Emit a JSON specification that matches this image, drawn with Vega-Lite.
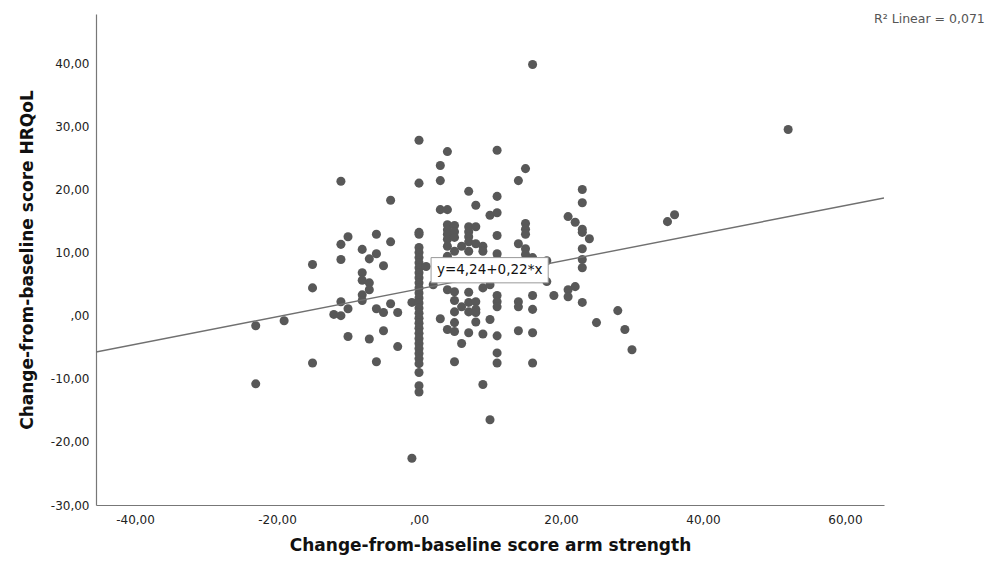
{
  "$schema": "https://vega.github.io/schema/vega-lite/v6.json",
  "width": 788,
  "height": 491,
  "autosize": {"type": "none"},
  "padding": {"left": 96, "top": 14, "right": 115, "bottom": 57},
  "background": "white",
  "config": {"view": {"stroke": null}, "font": "DejaVu Sans"},
  "datasets": {
    "pts": [
      {"x": -23, "y": -1.6}, {"x": -23, "y": -10.8}, {"x": -19, "y": -0.8},
      {"x": -15, "y": 8.1}, {"x": -15, "y": 4.4}, {"x": -15, "y": -7.5},
      {"x": -12, "y": 0.2},
      {"x": -11, "y": 21.3}, {"x": -11, "y": 11.3}, {"x": -11, "y": 8.9}, {"x": -11, "y": 2.2}, {"x": -11, "y": 0},
      {"x": -10, "y": 12.5}, {"x": -10, "y": 1.1}, {"x": -10, "y": -3.3},
      {"x": -8, "y": 10.5}, {"x": -8, "y": 6.8}, {"x": -8, "y": 5.6}, {"x": -8, "y": 3.3}, {"x": -8, "y": 2.4},
      {"x": -7, "y": 9.0}, {"x": -7, "y": 5.2}, {"x": -7, "y": 4.1}, {"x": -7, "y": -3.7},
      {"x": -6, "y": 12.9}, {"x": -6, "y": 9.8}, {"x": -6, "y": 1.1}, {"x": -6, "y": -7.3},
      {"x": -5, "y": 7.9}, {"x": -5, "y": 0.5}, {"x": -5, "y": -2.4},
      {"x": -4, "y": 18.3}, {"x": -4, "y": 11.7}, {"x": -4, "y": 1.9},
      {"x": -3, "y": 0.5}, {"x": -3, "y": -4.9},
      {"x": -1, "y": 2.1}, {"x": -1, "y": -22.6},
      {"x": 0, "y": 27.8}, {"x": 0, "y": 21.0}, {"x": 0, "y": 13.2}, {"x": 0, "y": 12.9},
      {"x": 0, "y": 10.8}, {"x": 0, "y": 10.0}, {"x": 0, "y": 9.2}, {"x": 0, "y": 8.4}, {"x": 0, "y": 7.6},
      {"x": 0, "y": 6.8}, {"x": 0, "y": 6.0}, {"x": 0, "y": 5.2}, {"x": 0, "y": 4.4}, {"x": 0, "y": 3.6},
      {"x": 0, "y": 2.8}, {"x": 0, "y": 2.0}, {"x": 0, "y": 1.2}, {"x": 0, "y": 0.4}, {"x": 0, "y": -0.4},
      {"x": 0, "y": -1.2}, {"x": 0, "y": -2.0}, {"x": 0, "y": -2.8}, {"x": 0, "y": -3.6}, {"x": 0, "y": -4.4},
      {"x": 0, "y": -5.2}, {"x": 0, "y": -6.0}, {"x": 0, "y": -6.8}, {"x": 0, "y": -7.6}, {"x": 0, "y": -9.0},
      {"x": 0, "y": -11.1}, {"x": 0, "y": -12.1},
      {"x": 1, "y": 7.8},
      {"x": 2, "y": 4.9},
      {"x": 3, "y": 23.8}, {"x": 3, "y": 21.4}, {"x": 3, "y": 16.8}, {"x": 3, "y": -0.5},
      {"x": 4, "y": 26.0}, {"x": 4, "y": 16.8}, {"x": 4, "y": 14.4}, {"x": 4, "y": 13.6}, {"x": 4, "y": 12.9},
      {"x": 4, "y": 12.1}, {"x": 4, "y": 11.0}, {"x": 4, "y": 9.4}, {"x": 4, "y": 4.1}, {"x": 4, "y": -2.2},
      {"x": 5, "y": 14.3}, {"x": 5, "y": 13.3}, {"x": 5, "y": 12.4}, {"x": 5, "y": 10.2}, {"x": 5, "y": 3.8},
      {"x": 5, "y": 2.4}, {"x": 5, "y": 0.6}, {"x": 5, "y": -1.1}, {"x": 5, "y": -2.5}, {"x": 5, "y": -7.3},
      {"x": 6, "y": 11.0}, {"x": 6, "y": 1.4}, {"x": 6, "y": -4.4},
      {"x": 7, "y": 19.7}, {"x": 7, "y": 14.1}, {"x": 7, "y": 13.3}, {"x": 7, "y": 12.5}, {"x": 7, "y": 11.7},
      {"x": 7, "y": 10.2}, {"x": 7, "y": 3.7}, {"x": 7, "y": 2.1}, {"x": 7, "y": 0.6}, {"x": 7, "y": -2.7},
      {"x": 8, "y": 17.5}, {"x": 8, "y": 14.1}, {"x": 8, "y": 11.4}, {"x": 8, "y": 2.2}, {"x": 8, "y": 1.0},
      {"x": 8, "y": 0.5}, {"x": 8, "y": -1.0},
      {"x": 9, "y": 11.0}, {"x": 9, "y": 10.2}, {"x": 9, "y": 4.4}, {"x": 9, "y": -2.9}, {"x": 9, "y": -10.9},
      {"x": 10, "y": 15.9}, {"x": 10, "y": 4.9}, {"x": 10, "y": -0.6}, {"x": 10, "y": -16.5},
      {"x": 11, "y": 26.2}, {"x": 11, "y": 18.9}, {"x": 11, "y": 16.3}, {"x": 11, "y": 12.7}, {"x": 11, "y": 9.8},
      {"x": 11, "y": 8.9}, {"x": 11, "y": 3.2}, {"x": 11, "y": 2.2}, {"x": 11, "y": 1.4}, {"x": 11, "y": -3.2},
      {"x": 11, "y": -5.9}, {"x": 11, "y": -7.5},
      {"x": 14, "y": 21.4}, {"x": 14, "y": 11.4}, {"x": 14, "y": 2.2}, {"x": 14, "y": 1.4}, {"x": 14, "y": -2.4},
      {"x": 15, "y": 23.3}, {"x": 15, "y": 14.6}, {"x": 15, "y": 13.7}, {"x": 15, "y": 12.9}, {"x": 15, "y": 10.6},
      {"x": 15, "y": 9.7},
      {"x": 16, "y": 39.8}, {"x": 16, "y": 9.2}, {"x": 16, "y": 3.2}, {"x": 16, "y": 1.0}, {"x": 16, "y": -2.7},
      {"x": 16, "y": -7.5},
      {"x": 18, "y": 8.7}, {"x": 18, "y": 5.4},
      {"x": 19, "y": 3.2},
      {"x": 21, "y": 15.7}, {"x": 21, "y": 4.1}, {"x": 21, "y": 3.0},
      {"x": 22, "y": 14.8}, {"x": 22, "y": 4.6},
      {"x": 23, "y": 20.0}, {"x": 23, "y": 17.9}, {"x": 23, "y": 13.7}, {"x": 23, "y": 13.2}, {"x": 23, "y": 10.6},
      {"x": 23, "y": 8.9}, {"x": 23, "y": 7.6}, {"x": 23, "y": 2.1},
      {"x": 24, "y": 12.2},
      {"x": 25, "y": -1.1},
      {"x": 28, "y": 0.8},
      {"x": 29, "y": -2.2},
      {"x": 30, "y": -5.4},
      {"x": 35, "y": 14.9},
      {"x": 36, "y": 16.0},
      {"x": 52, "y": 29.5}
    ],
    "fit": [
      {"x": -45.5, "y": -5.77},
      {"x": 65.5, "y": 18.65}
    ],
    "box": [
      {"x1": 1.7, "x2": 18.2, "y1": 5.2, "y2": 9.2, "xc": 9.95, "yc": 7.2, "label": "y=4,24+0,22*x"}
    ],
    "r2": [
      {"x": 79.7, "y": 47.0, "label": "R² Linear = 0,071"}
    ]
  },
  "layer": [
    {
      "data": {"name": "pts"},
      "mark": {"type": "circle", "size": 82, "color": "#585858", "opacity": 1},
      "encoding": {
        "x": {
          "field": "x", "type": "quantitative",
          "scale": {"domain": [-45.5, 65.5], "nice": false, "zero": false},
          "axis": {
            "title": "Change-from-baseline score arm strength",
            "values": [-40, -20, 0, 20, 40, 60],
            "labelExpr": "datum.value == 0 ? ',00' : replace(replace(format(datum.value, '.2f'), '.', ','), '−', '-')",
            "ticks": false, "grid": false, "domainColor": "#777", "domainWidth": 1.2,
            "labelFontSize": 12, "labelColor": "#222", "labelPadding": 9, "labelFont": "DejaVu Sans",
            "titleFontSize": 17, "titleFontWeight": "bold", "titleColor": "#111", "titlePadding": 12, "titleFont": "DejaVu Sans"
          }
        },
        "y": {
          "field": "y", "type": "quantitative",
          "scale": {"domain": [-30, 47.8], "nice": false, "zero": false},
          "axis": {
            "title": "Change-from-baseline score HRQoL",
            "values": [-30, -20, -10, 0, 10, 20, 30, 40],
            "labelExpr": "datum.value == 0 ? ',00' : replace(replace(format(datum.value, '.2f'), '.', ','), '−', '-')",
            "ticks": false, "grid": false, "domainColor": "#777", "domainWidth": 1.2,
            "labelFontSize": 12, "labelColor": "#222", "labelPadding": 7, "labelFont": "DejaVu Sans",
            "titleFontSize": 17, "titleFontWeight": "bold", "titleColor": "#111", "titlePadding": 14, "titleFont": "DejaVu Sans"
          }
        }
      }
    },
    {
      "data": {"name": "fit"},
      "mark": {"type": "line", "color": "#707070", "strokeWidth": 1.4, "clip": true},
      "encoding": {
        "x": {"field": "x", "type": "quantitative"},
        "y": {"field": "y", "type": "quantitative"}
      }
    },
    {
      "data": {"name": "box"},
      "mark": {"type": "rect", "fill": "white", "stroke": "#999", "strokeWidth": 1},
      "encoding": {
        "x": {"field": "x1", "type": "quantitative"},
        "x2": {"field": "x2"},
        "y": {"field": "y1", "type": "quantitative"},
        "y2": {"field": "y2"}
      }
    },
    {
      "data": {"name": "box"},
      "mark": {"type": "text", "fontSize": 13.5, "color": "#111", "align": "center", "baseline": "middle", "font": "DejaVu Sans"},
      "encoding": {
        "x": {"field": "xc", "type": "quantitative"},
        "y": {"field": "yc", "type": "quantitative"},
        "text": {"field": "label"}
      }
    },
    {
      "data": {"name": "r2"},
      "mark": {"type": "text", "fontSize": 12.5, "color": "#555", "align": "right", "baseline": "middle", "font": "DejaVu Sans"},
      "encoding": {
        "x": {"field": "x", "type": "quantitative"},
        "y": {"field": "y", "type": "quantitative"},
        "text": {"field": "label"}
      }
    }
  ]
}
